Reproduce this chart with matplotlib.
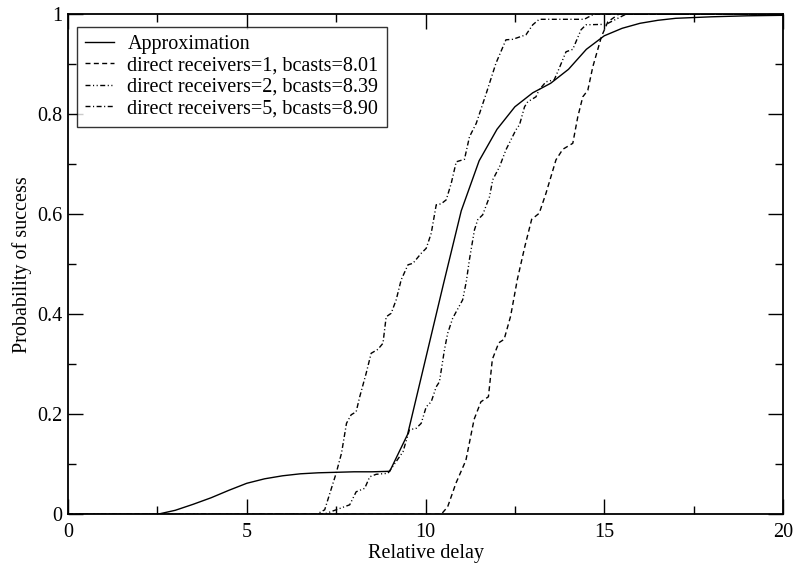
import matplotlib
matplotlib.use('Agg')
import matplotlib.pyplot as plt
from matplotlib.ticker import MultipleLocator, FuncFormatter

# approximation curve (solid)
approx_x = [0, 2.5, 3.0, 3.5, 4.0, 4.5, 5.0, 5.5, 6.0, 6.5, 7.0, 7.5, 8.0, 8.5, 9.0,
            9.5, 10.0, 10.5, 11.0, 11.5, 12.0, 12.5, 13.0, 13.5, 14.0, 14.5, 15.0,
            15.5, 16.0, 16.5, 17.0, 18.0, 19.0, 20.0]
approx_y = [0, 0, 0.008, 0.02, 0.033, 0.048, 0.062, 0.071, 0.077, 0.081, 0.083, 0.084,
            0.085, 0.085, 0.086, 0.16, 0.31, 0.46, 0.607, 0.707, 0.77, 0.815, 0.843,
            0.862, 0.89, 0.93, 0.957, 0.972, 0.982, 0.988, 0.992, 0.995, 0.997, 0.998]

# direct receivers=1
r1_x = [0, 10.44, 10.62, 10.85, 11.13, 11.36, 11.55, 11.76, 11.87, 12.05, 12.2, 12.38,
        12.57, 12.78, 12.97, 13.18, 13.37, 13.65, 13.84, 14.12, 14.26, 14.40, 14.54,
        14.68, 14.92, 15.1, 15.4, 20]
r1_y = [0, 0, 0.015, 0.062, 0.108, 0.19, 0.225, 0.235, 0.31, 0.343, 0.35, 0.396, 0.47,
        0.536, 0.59, 0.602, 0.642, 0.709, 0.73, 0.742, 0.795, 0.835, 0.848, 0.895,
        0.955, 0.985, 1.0, 1.0]

# direct receivers=2
r2_x = [0, 7.0, 7.23, 7.5, 7.88, 8.06, 8.3, 8.44, 8.62, 8.95, 9.37, 9.55, 9.74, 9.88,
        10.02, 10.16, 10.3, 10.39, 10.53, 10.62, 10.76, 11.04, 11.14, 11.23, 11.37,
        11.46, 11.6, 11.79, 11.88, 12.07, 12.25, 12.39, 12.53, 12.63, 12.77, 12.86,
        13.09, 13.18, 13.37, 13.6, 13.74, 13.93, 14.12, 14.35, 14.49, 15.05, 15.6, 20]
r2_y = [0, 0, 0.002, 0.009, 0.019, 0.045, 0.052, 0.075, 0.08, 0.082, 0.125, 0.169,
        0.172, 0.182, 0.215, 0.225, 0.255, 0.265, 0.329, 0.362, 0.392, 0.429, 0.465,
        0.51, 0.569, 0.589, 0.599, 0.635, 0.669, 0.695, 0.729, 0.749, 0.769, 0.779,
        0.815, 0.825, 0.835, 0.849, 0.865, 0.869, 0.892, 0.925, 0.93, 0.969, 0.979,
        0.98, 1.0, 1.0]

# direct receivers=5
r5_x = [0, 6.95, 7.18, 7.5, 7.65, 7.79, 7.92, 8.06, 8.16, 8.34, 8.48, 8.67, 8.81, 8.9,
        9.04, 9.18, 9.32, 9.51, 9.65, 9.88, 10.02, 10.16, 10.3, 10.44, 10.58, 10.72,
        10.86, 11.09, 11.23, 11.42, 11.7, 11.97, 12.25, 12.44, 12.81, 13.0, 13.18,
        14.44, 14.7, 20]
r5_y = [0, 0, 0.009, 0.082, 0.122, 0.182, 0.199, 0.205, 0.235, 0.282, 0.322, 0.33,
        0.342, 0.395, 0.402, 0.429, 0.469, 0.499, 0.502, 0.522, 0.532, 0.562, 0.619,
        0.621, 0.629, 0.662, 0.705, 0.71, 0.755, 0.782, 0.842, 0.902, 0.949, 0.95,
        0.959, 0.979, 0.99, 0.99, 1.0, 1.0]

labels = ['Approximation',
          'direct receivers=1, bcasts=8.01',
          'direct receivers=2, bcasts=8.39',
          'direct receivers=5, bcasts=8.90']

FS = 14.5
plt.rcParams['font.family'] = ['Liberation Serif', 'DejaVu Serif']
plt.rcParams['font.size'] = FS

fig = plt.figure(figsize=(7.96, 5.66), dpi=100)
ax = fig.add_axes([68 / 796, (566 - 514.3) / 566, 715 / 796, 500 / 566])

ax.plot(approx_x, approx_y, color='black', lw=1.0, label=labels[0])
ax.plot(r1_x, r1_y, color='black', lw=1.0, dashes=(3.6, 2.4), label=labels[1])
ax.plot(r2_x, r2_y, color='black', lw=1.0,
        dashes=(3.6, 1.8, 0.8, 1.8, 0.8, 1.8), label=labels[2])
ax.plot(r5_x, r5_y, color='black', lw=1.0, dashes=(3.6, 1.8, 0.8, 1.8), label=labels[3])

ax.set_xlim(0, 20)
ax.set_ylim(0, 1)
ax.xaxis.set_major_locator(MultipleLocator(5))
ax.xaxis.set_minor_locator(MultipleLocator(2.5))
ax.yaxis.set_major_locator(MultipleLocator(0.2))
ax.yaxis.set_minor_locator(MultipleLocator(0.1))
ax.yaxis.set_major_formatter(FuncFormatter(lambda v, p: ('%g' % round(v, 2))))
ax.xaxis.set_major_formatter(FuncFormatter(lambda v, p: ('%g' % v)))
ax.tick_params(which='both', direction='in', top=True, right=True, width=1.0,
               colors='black', labelsize=FS)
ax.tick_params(which='major', length=10.8)
ax.tick_params(axis='x', which='major', pad=6)
ax.tick_params(axis='y', which='major', pad=4)
ax.tick_params(which='minor', length=5.8)
for s in ax.spines.values():
    s.set_linewidth(1.3)

ax.set_xlabel('Relative delay', fontsize=FS, labelpad=2)
ax.set_ylabel('Probability of success', fontsize=FS, labelpad=4)

leg = ax.legend(loc='upper left', bbox_to_anchor=(0.0126, 0.975), borderaxespad=0,
                frameon=True, fancybox=False, handlelength=1.45, handletextpad=0.65,
                labelspacing=0.12, borderpad=0.4, fontsize=FS)
leg.get_frame().set_edgecolor('black')
leg.get_frame().set_linewidth(1.0)

fig.savefig('out.png', dpi=100)
